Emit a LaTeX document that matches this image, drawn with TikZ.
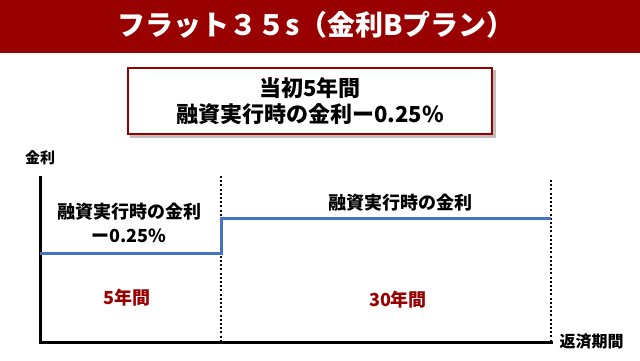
\documentclass[tikz,border=0pt]{standalone}
\usepackage{fontspec}
\setmainfont{Noto Sans CJK JP}
\usepackage{xcolor}
\usetikzlibrary{positioning}
\definecolor{darkred}{HTML}{990000}
\definecolor{rateblue}{HTML}{4472C4}

\begin{document}
\begin{tikzpicture}[x=1pt,y=-1pt,
  lbl/.style={font=\bfseries\fontsize{18}{24}\selectfont, align=center, inner sep=0pt},
  period/.style={lbl, text=darkred},
  axis/.style={line width=3pt},
  border/.style={dash pattern=on 2pt off 2.2pt, line width=2.8pt},
  rate/.style={rateblue, line width=3pt}]
  \useasboundingbox (0,0) rectangle (640,360);

  % タイトル
  \fill[darkred] (0,0) rectangle (640,53);
  \node (title) at (316,25) [text=white, font=\bfseries\fontsize{28}{30}\selectfont] {フラット３５s（金利Bプラン）};

  % 説明の枠
  \fill[black!25] (130,70) rectangle (496,138);
  \node (box) at (310,101) [draw=darkred, line width=2.5pt, fill=white, minimum width=364, minimum height=66,
    align=center, font=\bfseries\fontsize{22}{26}\selectfont] {当初5年間\\融資実行時の金利ー0.25\%};

  % 軸
  \coordinate (o) at (40,342);
  \coordinate (ytop) at (40,176);
  \coordinate (xend) at (553,342);
  \node (ylabel) at (40,158) [font=\bfseries\fontsize{15}{18}\selectfont] {金利};
  \node (xlabel) [right=3pt of xend, font=\bfseries\fontsize{16}{18}\selectfont] {返済期間};
  \draw[axis] (ytop) -- (o) -- (xend);

  % 区切り
  \coordinate (s1) at (221,176);
  \coordinate (s1b) at (221,342);
  \coordinate (s2) at (551,180);
  \coordinate (s2b) at (551,342);
  \draw[border] (s1) -- (s1b);
  \draw[border] (s2) -- (s2b);

  % 金利の線
  \coordinate (r0) at (40,253);
  \coordinate (r1) at (221,253);
  \coordinate (r2) at (221,218);
  \coordinate (r3) at (551,218);
  \draw[rate] (r0) -- (r1) -- (r2) -- (r3);

  % ラベル
  \node (early) at (129,223) [lbl] {融資実行時の金利\\ー0.25\%};
  \node (late) at (400,203) [lbl] {融資実行時の金利};
  \node (five) at (127,298) [period] {5年間};
  \node (thirty) at (398,300) [period] {30年間};
\end{tikzpicture}
\end{document}
